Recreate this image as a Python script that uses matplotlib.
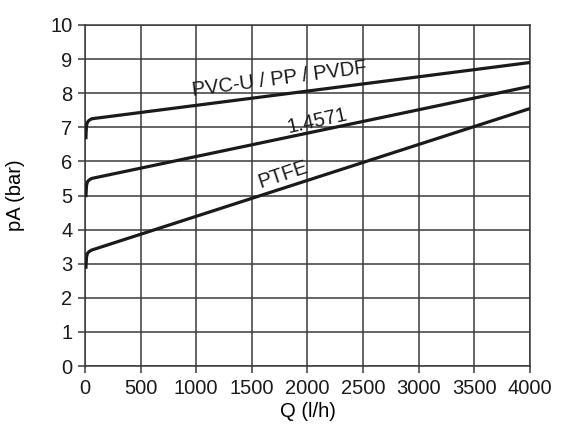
import matplotlib
matplotlib.use("Agg")
import matplotlib.pyplot as plt

plt.rcParams['font.family'] = ['Liberation Sans', 'DejaVu Sans']

# Flow rate (l/h) and pressure (bar) for each housing material
q = [8, 10, 14, 22, 35, 60, 4000]
p_pvc = [6.65, 6.85, 7.05, 7.15, 7.2, 7.25, 8.9]
p_1_4571 = [4.95, 5.1, 5.3, 5.4, 5.45, 5.5, 8.2]
p_ptfe = [2.85, 3.0, 3.2, 3.3, 3.35, 3.4, 7.55]

labels = ["PVC-U / PP / PVDF", "1.4571", "PTFE"]
label_pos = [(1750, 8.4), (2085, 7.18), (1780, 5.6)]
label_rot = [7.5, 12.5, 18.5]

x_ticks = [0, 500, 1000, 1500, 2000, 2500, 3000, 3500, 4000]
y_ticks = list(range(0, 11))

fig = plt.figure(figsize=(5.61, 4.25), dpi=100)
ax = fig.add_axes([0.1515, 0.1388, 0.7932, 0.8024])

grid_c = '#3a3a3a'
fs = 14.5
for series in (p_pvc, p_1_4571, p_ptfe):
    ax.plot(q, series, color='#1a1a1a', lw=2.3, solid_capstyle='butt', zorder=3)

for text, (x, y), rot in zip(labels, label_pos, label_rot):
    ax.text(x, y, text, rotation=rot, rotation_mode='anchor', ha='center', va='center',
            fontsize=fs, color='#1a1a1a', zorder=4)

ax.set_xlim(0, 4000)
ax.set_ylim(0, 10)
ax.set_xticks(x_ticks)
ax.set_yticks(y_ticks)
ax.grid(True, color=grid_c, lw=1.1)
for s in ax.spines.values():
    s.set_color(grid_c)
    s.set_linewidth(1.1)
ax.tick_params(colors='#1a1a1a', labelsize=fs, length=5, width=1.1, color=grid_c, pad=4)
ax.set_xlabel("Q (l/h)", fontsize=fs, labelpad=3)
ax.set_ylabel("pA (bar)", fontsize=fs, labelpad=18)

fig.savefig("out.png", dpi=100)
